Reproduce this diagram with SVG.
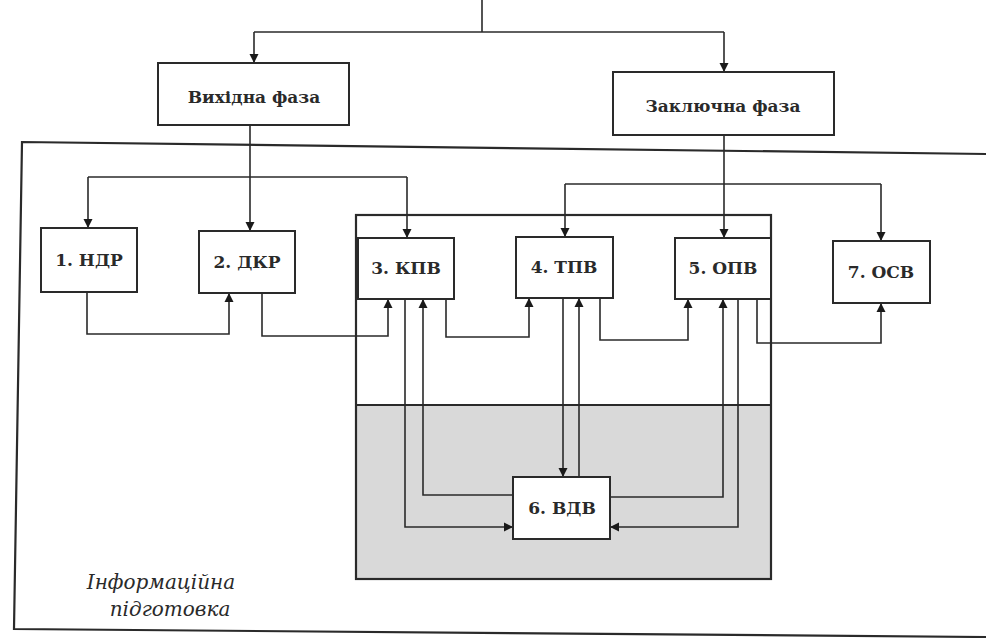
<svg xmlns="http://www.w3.org/2000/svg" width="986" height="638" viewBox="0 0 986 638">
<style>
.box{fill:#fff;stroke:#2a2a2a;stroke-width:2}
.lbl{font-family:"DejaVu Serif","Liberation Serif",serif;font-weight:bold;fill:#2a2a2a;text-anchor:middle}
.n{font-size:17px}
.p{font-size:17px}
.it{font-family:"DejaVu Serif","Liberation Serif",serif;font-style:italic;font-size:20px;fill:#2a2a2a;text-anchor:middle}
.c{fill:none;stroke:#2a2a2a;stroke-width:1.6}
.a{marker-end:url(#ah)}
.frame{fill:none;stroke:#2a2a2a;stroke-width:2.2}
</style>
<defs>
<marker id="ah" markerUnits="userSpaceOnUse" markerWidth="10" markerHeight="10" refX="9" refY="5" orient="auto">
<path d="M0,0.5 L9,5 L0,9.5 z" fill="#1a1a1a"/>
</marker>
</defs>
<rect width="986" height="638" fill="#fff"/>

<g id="frames">
<path class="frame" d="M986,154 L22,142 L14,629 L986,637"/>
<rect x="356" y="405" width="415" height="174" fill="#d9d9d9" stroke="none"/>
<rect x="356" y="215" width="415" height="364" class="frame" stroke-width="2"/>
<line x1="356" y1="405" x2="771" y2="405" class="frame" stroke-width="2"/>
</g>

<g id="connectors">
<path class="c" d="M482,0 V32"/>
<path class="c" d="M254,32 H724"/>
<path class="c a" d="M254,32 V63"/>
<path class="c a" d="M724,32 V72"/>
<path class="c a" d="M250,125 V231"/>
<path class="c" d="M88,177 H407"/>
<path class="c a" d="M88,177 V228"/>
<path class="c a" d="M407,177 V238"/>
<path class="c a" d="M724,135 V238"/>
<path class="c" d="M565,184 H881"/>
<path class="c a" d="M565,184 V237"/>
<path class="c a" d="M881,184 V241"/>
<path class="c a" d="M87,292 V334 H229 V293"/>
<path class="c a" d="M262,293 V336 H388 V299"/>
<path class="c a" d="M446,299 V337 H529 V298"/>
<path class="c a" d="M600,298 V340 H688 V299"/>
<path class="c a" d="M757,299 V343 H881 V303"/>
<path class="c a" d="M405,299 V527 H513"/>
<path class="c a" d="M513,495 H423 V299"/>
<path class="c a" d="M563,298 V477"/>
<path class="c a" d="M579,477 V298"/>
<path class="c a" d="M738,299 V527 H610"/>
<path class="c a" d="M610,497 H723 V299"/>
</g>

<g id="vykhidna">
<rect class="box" x="158" y="63" width="191" height="62"/>
<text class="lbl p" x="254" y="103">Вихідна фаза</text>
</g>
<g id="zakliuchna">
<rect class="box" x="613" y="72" width="221" height="63"/>
<text class="lbl p" x="723" y="112">Заключна фаза</text>
</g>
<g id="n1">
<rect class="box" x="41" y="228" width="96" height="64"/>
<text class="lbl n" x="89" y="266">1. НДР</text>
</g>
<g id="n2">
<rect class="box" x="199" y="231" width="96" height="62"/>
<text class="lbl n" x="247" y="268">2. ДКР</text>
</g>
<g id="n3">
<rect class="box" x="358" y="238" width="96" height="61"/>
<text class="lbl n" x="406" y="274">3. КПВ</text>
</g>
<g id="n4">
<rect class="box" x="516" y="237" width="97" height="61"/>
<text class="lbl n" x="564" y="273">4. ТПВ</text>
</g>
<g id="n5">
<rect class="box" x="675" y="238" width="96" height="61"/>
<text class="lbl n" x="723" y="274">5. ОПВ</text>
</g>
<g id="n7">
<rect class="box" x="833" y="241" width="97" height="62"/>
<text class="lbl n" x="881" y="278">7. ОСВ</text>
</g>
<g id="n6">
<rect class="box" x="513" y="477" width="97" height="62"/>
<text class="lbl n" x="562" y="514">6. ВДВ</text>
</g>
<g id="info">
<text class="it" x="161" y="589">Інформаційна</text>
<text class="it" x="170" y="616">підготовка</text>
</g>
</svg>
